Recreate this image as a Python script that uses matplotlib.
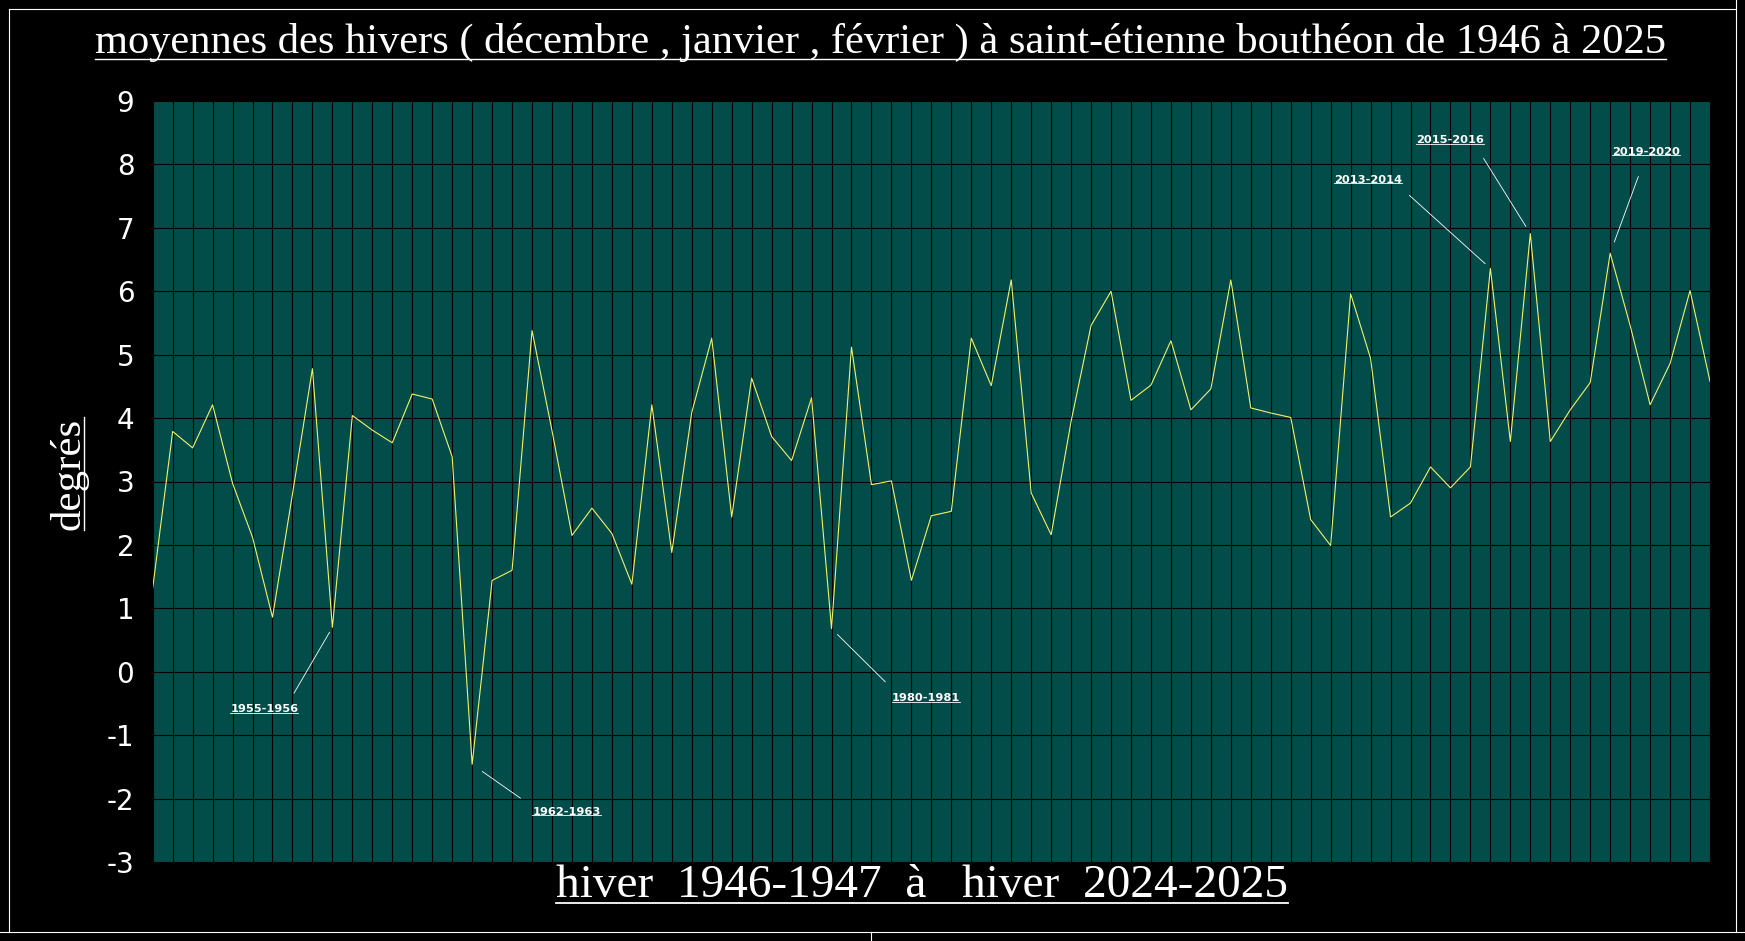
import matplotlib
matplotlib.use("Agg")
import matplotlib.pyplot as plt
from matplotlib.lines import Line2D
from matplotlib.text import Text
from matplotlib.transforms import IdentityTransform

# ---------------------------------------------------------------------------
W, H = 1745, 941          # output size in pixels (dpi 100)

winters = [f"{y}-{y + 1}" for y in range(1946, 2025)]
temps = [1.32, 3.79, 3.53, 4.21, 2.97, 2.12, 0.86, 2.80, 4.78, 0.70,
         4.04, 3.81, 3.61, 4.38, 4.30, 3.39, -1.46, 1.44, 1.60, 5.38,
         3.80, 2.15, 2.58, 2.18, 1.38, 4.21, 1.88, 4.09, 5.26, 2.44,
         4.63, 3.71, 3.33, 4.32, 0.68, 5.12, 2.95, 3.01, 1.44, 2.46,
         2.53, 5.26, 4.51, 6.18, 2.82, 2.16, 3.95, 5.46, 6.00, 4.28,
         4.52, 5.22, 4.13, 4.46, 6.18, 4.16, 4.08, 4.01, 2.40, 1.99,
         5.96, 4.94, 2.44, 2.66, 3.23, 2.90, 3.23, 6.36, 3.63, 6.91,
         3.63, 4.13, 4.56, 6.60, 5.46, 4.21, 4.86, 6.01, 4.58]
yticks = list(range(-3, 10))
highlights = ["1955-1956", "1962-1963", "1980-1981",
              "2013-2014", "2015-2016", "2019-2020"]

TITLE = ("moyennes des hivers ( décembre , janvier , février ) "
         "à saint-étienne bouthéon de 1946 à 2025")
XLABEL = "hiver  1946-1947  à   hiver  2024-2025"
YLABEL = "degrés"
# ---------------------------------------------------------------------------

BG_PLOT = "#024c49"
LINE_C = "#f0f26e"
SERIF = "Liberation Serif"


def fx(px):
    return px / W


def fy(py):
    return 1 - py / H


fig = plt.figure(figsize=(W / 100, H / 100), dpi=100, facecolor="black")
ax = fig.add_axes([fx(152.7), fy(862), (1710 - 152.7) / W, (862 - 101) / H])
ax.set_facecolor(BG_PLOT)

x = list(range(len(winters)))
ax.plot(x, temps, color=LINE_C, lw=0.8, zorder=3)

ax.set_xlim(0, len(winters) - 1)
ax.set_ylim(yticks[0], yticks[-1])
ax.set_xticks(x)
ax.set_xticklabels([])
ax.set_yticks(yticks)
ax.set_yticklabels([str(t) for t in yticks], color="white",
                   fontsize=20, family="DejaVu Sans")
ax.tick_params(axis="both", length=0)
ax.tick_params(axis="y", pad=13.2)
ax.grid(True, color="black", lw=0.8)
ax.set_axisbelow(True)
for s in ax.spines.values():
    s.set_visible(False)

# annotation placement: text offset (pt), leader attach on text, shrink (pt)
ann_style = {
    "1955-1956": ((-49, -59), (0.84, 1), 7, 4),
    "1962-1963": ((68, -34), (0.0, 1), 8, 9),
    "1980-1981": ((68, -50), (0.07, 1), 8.6, 6),
    "2013-2014": ((-88, 64), (0.93, 0), 8.6, 5),
    "2015-2016": ((-58, 67), (0.88, 0), 8.6, 6),
    "2019-2020": ((26, 73), (0.49, 0), 13, 8.6),
}
ann_texts = []
for lab in highlights:
    i = winters.index(lab)
    off, rp, sa, sb = ann_style[lab]
    t = ax.annotate(lab, xy=(i, temps[i]), xytext=off, textcoords="offset points",
                    ha="center", va="center", color="white", fontsize=8.2,
                    fontweight="bold", family="DejaVu Sans",
                    arrowprops=dict(arrowstyle="-", color="white", lw=0.6,
                                    relpos=rp, shrinkA=sa, shrinkB=sb))
    ann_texts.append(t)

title = fig.text(fx(880.5), fy(53.3), TITLE, ha="center", va="baseline",
                 family=SERIF, fontsize=30.6, color="white")
xlab = fig.text(fx(922), fy(897), XLABEL, ha="center", va="baseline",
                family=SERIF, fontsize=34, color="white")
ylab = fig.text(fx(80), fy(473.5), YLABEL, rotation=90, rotation_mode="anchor",
                ha="center", va="baseline", family=SERIF, fontsize=31,
                color="white")

# underlines (drawn in pixel coords once text extents are known)
fig.canvas.draw()
rend = fig.canvas.get_renderer()


def hline_px(x0, x1, y, lw):
    fig.add_artist(Line2D([x0, x1], [y, y], color="white", lw=lw,
                          transform=IdentityTransform()))


bb = title.get_window_extent(rend)
hline_px(bb.x0, bb.x1, H - 59.3, 1.0)
bb = xlab.get_window_extent(rend)
hline_px(bb.x0, bb.x1, H - 903, 1.3)
bb = ylab.get_window_extent(rend)
fig.add_artist(Line2D([83.5, 83.5], [bb.y0, bb.y1], color="white", lw=1.0,
                      transform=IdentityTransform()))
for t in ann_texts:
    bb = Text.get_window_extent(t, rend)   # text only, without the leader
    hline_px(bb.x0, bb.x1, bb.y0 + 1.5, 0.6)

# screenshot frame lines
frame = [((9, 1736), (9, 9)), ((9, 9), (9, 932)), ((1736, 1736), (0, 932)),
         ((0, W), (932, 932)), ((871, 871), (932, H))]
for xs, ys in frame:
    fig.add_artist(Line2D(xs, [H - v for v in ys], color="white", lw=0.8,
                          transform=IdentityTransform()))

fig.savefig("out.png", dpi=100, facecolor="black")
